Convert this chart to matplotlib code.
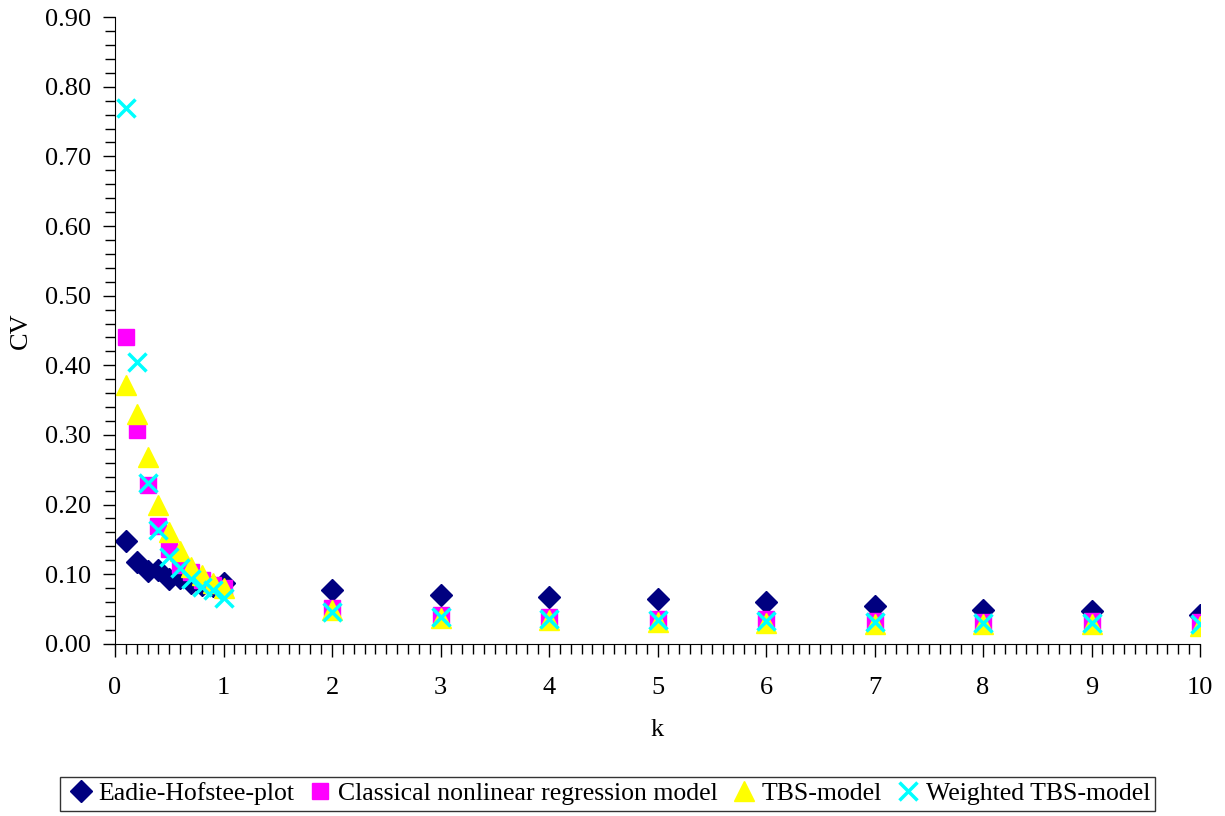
import numpy as np
import matplotlib.pyplot as plt
from matplotlib.ticker import MultipleLocator

plt.rcParams['font.family'] = ['Liberation Serif', 'DejaVu Serif']

k = [0.1, 0.2, 0.3, 0.4, 0.5, 0.6, 0.7, 0.8, 0.9, 1.0, 2, 3, 4, 5, 6, 7, 8, 9, 10]

eadie = [0.148, 0.118, 0.105, 0.106, 0.093, 0.095, 0.088, 0.085, 0.083, 0.088,
         0.078, 0.070, 0.067, 0.065, 0.060, 0.054, 0.049, 0.047, 0.042]
classical = [0.440, 0.307, 0.228, 0.169, 0.136, 0.113, 0.103, 0.092, 0.085, 0.080,
             0.052, 0.042, 0.038, 0.036, 0.035, 0.033, 0.032, 0.033, 0.031]
tbs = [0.372, 0.330, 0.268, 0.200, 0.160, 0.133, 0.111, 0.099, 0.088, 0.080,
       0.048, 0.037, 0.034, 0.032, 0.030, 0.029, 0.028, 0.028, 0.026]
wtbs = [0.769, 0.405, 0.231, 0.164, 0.124, 0.109, 0.093, 0.082, 0.077, 0.066,
        0.045, 0.038, 0.036, 0.034, 0.033, 0.031, 0.030, 0.030, 0.029]

fig = plt.figure(figsize=(12.25, 8.16), dpi=100)
ax = fig.add_axes([0.0939, 0.211, 0.8857, 0.768])

ax.plot(k, eadie, 'D', color='#000080', markersize=11, linestyle='none', label='Eadie-Hofstee-plot')
ax.plot(k, classical, 's', color='#ff00ff', markersize=11.5, linestyle='none', label='Classical nonlinear regression model')
ax.plot(k, tbs, '^', color='#ffff00', markersize=14, linestyle='none', label='TBS-model')
ax.plot(k, wtbs, 'x', color='#00ffff', markersize=12.5, markeredgewidth=2.5, linestyle='none', label='Weighted TBS-model')

ax.set_xlim(0, 10)
ax.set_ylim(0, 0.9)
ax.xaxis.set_major_locator(MultipleLocator(1))
ax.xaxis.set_minor_locator(MultipleLocator(0.1))
ax.yaxis.set_minor_locator(MultipleLocator(0.02))
ax.set_yticks(np.arange(0, 0.91, 0.1))
ax.set_yticklabels(['%.2f' % v for v in np.arange(0, 0.91, 0.1)])
ax.tick_params(axis='both', which='major', direction='out', length=9, labelsize=19, width=1)
ax.tick_params(axis='x', which='major', pad=15)
ax.tick_params(axis='y', which='major', pad=8)
ax.tick_params(axis='both', which='minor', direction='out', length=7, width=1)
ax.spines['top'].set_visible(False)
ax.spines['right'].set_visible(False)

ax.set_xlabel('k', fontsize=19, labelpad=14)
ax.set_ylabel('CV', fontsize=19, labelpad=10)

leg = fig.legend(loc='center', bbox_to_anchor=(0.496, 0.027), ncol=4, fontsize=18.5,
                 frameon=True, fancybox=False, edgecolor='black', handletextpad=0.1,
                 columnspacing=0.4, borderpad=0.2, handlelength=1.2)
leg.get_frame().set_linewidth(1)

fig.savefig('out.png', dpi=100)
